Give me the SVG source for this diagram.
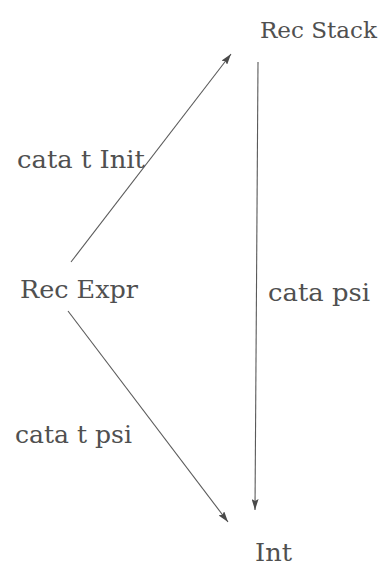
<svg xmlns="http://www.w3.org/2000/svg" width="385" height="566" viewBox="0 0 385 566">
<style>
text{font-family:"DejaVu Serif","Liberation Serif",serif;font-size:25px;fill:#505050}
.e{stroke:#5a5a5a;stroke-width:1.1;fill:none}
</style>
<defs>
<marker id="ah" viewBox="0 0 11 7" refX="11" refY="3.5" markerWidth="11" markerHeight="7" markerUnits="userSpaceOnUse" orient="auto">
<path d="M0,0 L11,3.5 L0,7 L2,3.5 Z" fill="#4a4a4a"/>
</marker>
</defs>
<rect width="385" height="566" fill="#fff"/>
<g id="connectors">
<line class="e" x1="71" y1="262" x2="231" y2="54" marker-end="url(#ah)"/>
<line class="e" x1="258" y1="62" x2="255" y2="510" marker-end="url(#ah)"/>
<line class="e" x1="68" y1="311" x2="228" y2="522" marker-end="url(#ah)"/>
<text x="17" y="168" textLength="128" lengthAdjust="spacingAndGlyphs">cata t Init</text>
<text x="268" y="301" textLength="102" lengthAdjust="spacingAndGlyphs">cata psi</text>
<text x="15" y="443" textLength="117" lengthAdjust="spacingAndGlyphs">cata t psi</text>
</g>
<g id="rec-stack"><text x="260" y="38" style="font-size:23px" textLength="117" lengthAdjust="spacingAndGlyphs">Rec Stack</text></g>
<g id="rec-expr"><text x="20" y="298" textLength="118" lengthAdjust="spacingAndGlyphs">Rec Expr</text></g>
<g id="int"><text x="255" y="561" textLength="37" lengthAdjust="spacingAndGlyphs">Int</text></g>
</svg>
